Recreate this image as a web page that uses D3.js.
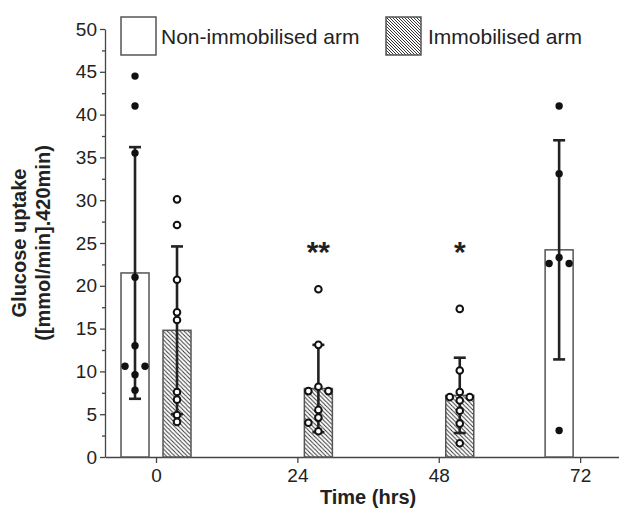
<!DOCTYPE html>
<html>
    <head>
        <script src="https://d3js.org/d3.v7.min.js"></script>
        <style>
            body {
                margin: 0;
                overflow: hidden;
                background: #fff;
            }
            svg {
                font-family: 'Liberation Sans', Arial, sans-serif;
            }
            .axis path,
            .axis line {
                stroke: #444;
                stroke-width: 1.3px;
            }
            .axis text {
                font-size: 19px;
                fill: #222;
            }
            .bar {
                stroke: #555;
                stroke-width: 1.5px;
            }
            .err {
                stroke: #222;
                stroke-width: 2.6px;
            }
            .title {
                font-weight: bold;
                font-size: 20px;
                fill: #222;
            }
        </style>
    </head>

    <body>
        <script>
            // time points (hrs)
            const times = [0, 24, 48, 72];
            // bar means and SDs, null = no bar for that arm
            const nonImmobMean = [21.5, null, null, 24.2];
            const nonImmobSD = [14.7, null, null, 12.8];
            const immobMean = [14.8, 8.0, 7.2, null];
            const immobSD = [9.8, 5.1, 4.4, null];
            // individual subjects
            const nonImmob0 = [44.5, 41.0, 35.5, 21.0, 13.0, 10.6, 10.6, 9.6, 7.8];
            const nonImmob72 = [41.0, 33.1, 23.3, 22.6, 22.6, 3.1];
            const immob0 = [30.1, 27.1, 20.7, 16.9, 16.0, 7.6, 6.7, 4.9, 4.1];
            const immob24 = [19.6, 13.1, 8.2, 7.7, 7.7, 5.5, 4.6, 4.0, 3.0];
            const immob48 = [17.3, 10.1, 7.6, 7.0, 7.0, 6.6, 5.4, 3.9, 1.6];
            const nonImmobPoints = [nonImmob0, null, null, nonImmob72];
            const immobPoints = [immob0, immob24, immob48, null];
            const significance = ['', '**', '*', ''];
            const sigLevel = 24.5;
            const yTicks = d3.range(0, 51, 5);
            const yMinorTicks = d3.range(2.5, 50, 5);

            const width = 619;
            const height = 510;
            const svg = d3.select('body').append('svg').attr('width', width).attr('height', height);

            const defs = svg.append('defs');
            function hatch(id, size) {
                const p = defs.append('pattern').attr('id', id).attr('patternUnits', 'userSpaceOnUse').attr('width', size).attr('height', size);
                p.append('rect').attr('width', size).attr('height', size).attr('fill', '#fff');
                p.append('path')
                    .attr('d', `M0,0L${size},${size}M${-size / 2},${size / 2}L${size / 2},${size * 1.5}M${size / 2},${-size / 2}L${size * 1.5},${size / 2}`)
                    .attr('stroke', '#333')
                    .attr('stroke-width', 1);
            }
            hatch('hatch', 4.2);
            hatch('hatchLegend', 3);

            const x = d3.scaleLinear().domain([-8.66, 78.6]).range([105, 619]);
            const y = d3.scaleLinear().domain([0, 50]).range([457, 29]);
            const off = 21;
            const barW = 28;

            // axes
            svg.append('g')
                .attr('class', 'axis')
                .attr('transform', 'translate(0,457)')
                .call(d3.axisBottom(x).tickValues(times).tickSize(6).tickSizeOuter(0).tickPadding(5))
                .call((g) => g.selectAll('text').attr('dy', '0.75em'));
            svg.append('g')
                .attr('class', 'axis')
                .attr('transform', 'translate(105,0)')
                .call(d3.axisLeft(y).tickValues(yTicks).tickSize(5).tickSizeOuter(0).tickPadding(3));
            svg.append('g')
                .attr('class', 'axis')
                .attr('transform', 'translate(105,0)')
                .call(d3.axisLeft(y).tickValues(yMinorTicks).tickSize(3).tickFormat(''))
                .call((g) => g.select('.domain').remove());

            // bars
            function drawBars(means, dx, fill) {
                times.forEach((t, i) => {
                    if (means[i] == null) return;
                    svg.append('rect')
                        .attr('class', 'bar')
                        .attr('x', x(t) + dx - barW / 2)
                        .attr('y', y(means[i]))
                        .attr('width', barW)
                        .attr('height', y(0) - y(means[i]))
                        .attr('fill', fill);
                });
            }
            drawBars(nonImmobMean, -off, '#fff');
            drawBars(immobMean, off, 'url(#hatch)');

            // error bars
            function drawErr(means, sds, dx) {
                times.forEach((t, i) => {
                    if (means[i] == null) return;
                    const cx = x(t) + dx;
                    const hi = y(means[i] + sds[i]);
                    const lo = y(Math.max(0, means[i] - sds[i]));
                    const g = svg.append('g').attr('class', 'err');
                    g.append('line').attr('x1', cx).attr('x2', cx).attr('y1', hi).attr('y2', lo);
                    g.append('line').attr('x1', cx - 6).attr('x2', cx + 6).attr('y1', hi).attr('y2', hi);
                    g.append('line').attr('x1', cx - 6).attr('x2', cx + 6).attr('y1', lo).attr('y2', lo);
                });
            }
            drawErr(nonImmobMean, nonImmobSD, -off);
            drawErr(immobMean, immobSD, off);

            // points: tied pairs go either side, others nudged only when they really overlap
            function dodge(vals) {
                const placed = [];
                vals.forEach((v, i) => {
                    const py = y(v);
                    const twin = vals.indexOf(v) !== vals.lastIndexOf(v);
                    if (twin) {
                        placed.push({ dx: vals.indexOf(v) === i ? -10 : 10, py });
                        return;
                    }
                    for (const dx of [0, -10, 10]) {
                        if (placed.every((p) => Math.hypot(p.dx - dx, p.py - py) >= 6)) {
                            placed.push({ dx, py });
                            break;
                        }
                    }
                });
                return placed;
            }
            function drawPoints(sets, dx, open) {
                times.forEach((t, i) => {
                    if (!sets[i]) return;
                    svg.append('g')
                        .selectAll('circle')
                        .data(dodge(sets[i]))
                        .join('circle')
                        .attr('cx', (d) => x(t) + dx + d.dx)
                        .attr('cy', (d) => d.py)
                        .attr('r', open ? 3.3 : 3.7)
                        .attr('fill', open ? '#fff' : '#111')
                        .attr('stroke', '#111')
                        .attr('stroke-width', open ? 2 : 0);
                });
            }
            drawPoints(nonImmobPoints, -off, false);
            drawPoints(immobPoints, off, true);

            // significance
            svg.append('g')
                .selectAll('text')
                .data(times.filter((t, i) => significance[i]))
                .join('text')
                .attr('x', (t) => x(t) + off)
                .attr('y', y(sigLevel) + 15)
                .attr('text-anchor', 'middle')
                .attr('font-size', 30)
                .attr('font-weight', 'bold')
                .attr('fill', '#222')
                .text((t) => significance[times.indexOf(t)]);

            // legend
            const legend = svg.append('g');
            legend.append('rect').attr('x', 121).attr('y', 17).attr('width', 35).attr('height', 38).attr('fill', '#fff').attr('stroke', '#555').attr('stroke-width', 1.5);
            legend.append('text').attr('x', 161).attr('y', 44).attr('font-size', 21).attr('fill', '#222').text('Non-immobilised arm');
            legend.append('rect').attr('x', 386).attr('y', 17).attr('width', 35).attr('height', 38).attr('fill', 'url(#hatchLegend)').attr('stroke', '#555').attr('stroke-width', 1.5);
            legend.append('text').attr('x', 428).attr('y', 44).attr('font-size', 21).attr('fill', '#222').text('Immobilised arm');

            // axis titles
            svg.append('text').attr('class', 'title').attr('x', x(36)).attr('y', 504).attr('text-anchor', 'middle').text('Time (hrs)');
            const yt = svg.append('text').attr('class', 'title').attr('transform', 'translate(0,243) rotate(-90)').attr('text-anchor', 'middle');
            yt.append('tspan').attr('x', 0).attr('y', 26).text('Glucose uptake');
            yt.append('tspan').attr('x', 0).attr('y', 50).text('([mmol/min].420min)');
        </script>
    </body>
</html>
